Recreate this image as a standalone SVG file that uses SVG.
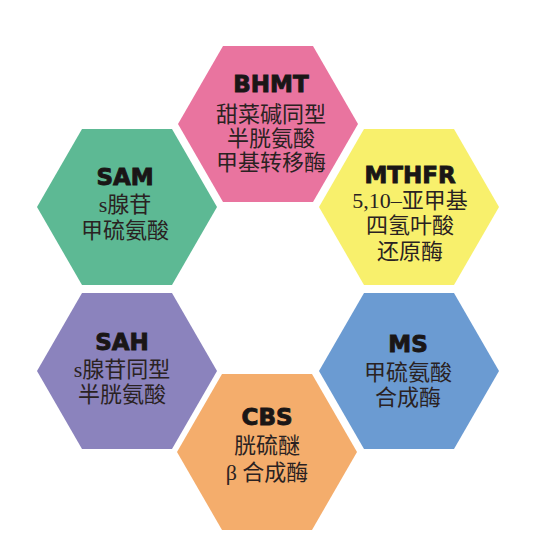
<svg xmlns="http://www.w3.org/2000/svg" width="543" height="557" viewBox="0 0 543 557">
<defs>
<polygon id="hex" points="-90,0 -45,-78 45,-78 90,0 45,78 -45,78"/>
</defs>
<style>
.t{font-family:"DejaVu Sans","Liberation Sans",sans-serif;font-weight:bold;font-size:23px;fill:#1a1616;stroke:#1a1616;stroke-width:0.9px;text-anchor:middle}
.c{font-family:"Liberation Serif","Noto Sans CJK SC",serif;font-size:22px;fill:#2a2222;text-anchor:middle}
</style>
<rect width="543" height="557" fill="#ffffff"/>
<g id="connectors"/>
<g id="bhmt" transform="translate(268,124)">
<use href="#hex" fill="#E9749F"/>
<text class="t" x="3" y="-32">BHMT</text>
<text class="c" x="3" y="-2">甜菜碱同型</text>
<text class="c" x="3" y="22">半胱氨酸</text>
<text class="c" x="3" y="46">甲基转移酶</text>
</g>
<g id="mthfr" transform="translate(409,207)">
<use href="#hex" fill="#F8F06C"/>
<text class="t" x="1" y="-24">MTHFR</text>
<text class="c" x="1" y="1">5,10–亚甲基</text>
<text class="c" x="1" y="26">四氢叶酸</text>
<text class="c" x="1" y="52">还原酶</text>
</g>
<g id="ms" transform="translate(409,371)">
<use href="#hex" fill="#6B9BD2"/>
<text class="t" x="-1" y="-19">MS</text>
<text class="c" x="-1" y="9">甲硫氨酸</text>
<text class="c" x="-1" y="34">合成酶</text>
</g>
<g id="cbs" transform="translate(267,452)">
<use href="#hex" fill="#F4AD6C"/>
<text class="t" x="0" y="-27">CBS</text>
<text class="c" x="0" y="1">胱硫醚</text>
<text class="c" x="0" y="28">β 合成酶</text>
</g>
<g id="sah" transform="translate(127,371)">
<use href="#hex" fill="#8B83BD"/>
<text class="t" x="-5" y="-21">SAH</text>
<text class="c" x="-5" y="6">s腺苷同型</text>
<text class="c" x="-5" y="31">半胱氨酸</text>
</g>
<g id="sam" transform="translate(127,207)">
<use href="#hex" fill="#5DB994"/>
<text class="t" x="-2" y="-22">SAM</text>
<text class="c" x="-2" y="5">s腺苷</text>
<text class="c" x="-2" y="31">甲硫氨酸</text>
</g>
</svg>
